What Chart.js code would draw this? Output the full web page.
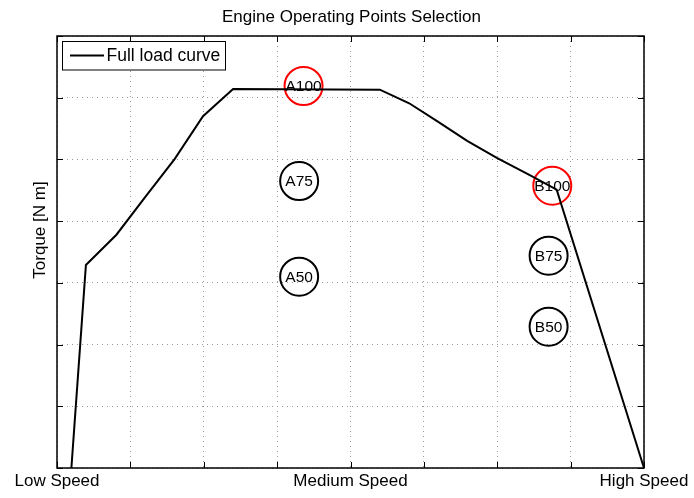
<!DOCTYPE html>
<html>
<head>
<meta charset="utf-8">
<script src="https://cdn.jsdelivr.net/npm/chart.js@4/dist/chart.umd.min.js"></script>
<style>
  html, body { margin: 0; padding: 0; background: #fff; }
  #wrap { width: 694px; height: 498px; }
</style>
</head>
<body>
<div id="wrap"><canvas id="c" width="694" height="498"></canvas></div>
<script>
// Full load torque curve (speed in grid units, torque in grid units)
const curveSpeed  = [0.196, 0.394, 0.81, 1.196, 1.605, 1.99, 2.40, 4.40, 4.80, 5.18, 5.59, 6.00, 6.45, 6.81, 8.0];
const curveTorque = [0,     3.29,  3.78, 4.38,  5.01,  5.70, 6.14, 6.13, 5.91, 5.62, 5.30, 5.02, 4.74, 4.51, 0];

// Selected operating points
const pointNames  = ['A100', 'A75', 'A50', 'B100', 'B75', 'B50'];
const pointSpeed  = [3.36, 3.30, 3.30, 6.75, 6.70, 6.70];
const pointTorque = [6.19, 4.65, 3.10, 4.575, 3.44, 2.29];
const pointColors = ['#ff0000', '#000000', '#000000', '#ff0000', '#000000', '#000000'];

// Speed axis labels (only three named ticks)
const speedTickLabels = { 0: 'Low Speed', 4: 'Medium Speed', 8: 'High Speed' };

const titleText = 'Engine Operating Points Selection';
const yAxisText = 'Torque [N m]';
const legendText = 'Full load curve';

const FONT = '"Liberation Sans", Arial, Helvetica, sans-serif';

const decorations = {
  id: 'decorations',
  afterDraw(chart) {
    const ctx = chart.ctx;
    const a = chart.chartArea;
    const xs = chart.scales.x, ys = chart.scales.y;
    ctx.save();

    // inward tick marks on all four sides
    ctx.strokeStyle = '#000';
    ctx.lineWidth = 1;
    const tl = 6;
    ctx.beginPath();
    for (let v = xs.min; v <= xs.max; v++) {
      const px = Math.round(xs.getPixelForValue(v)) + 0.5;
      ctx.moveTo(px, a.bottom); ctx.lineTo(px, a.bottom - tl);
      ctx.moveTo(px, a.top); ctx.lineTo(px, a.top + tl);
    }
    for (let v = ys.min; v <= ys.max; v++) {
      const py = Math.round(ys.getPixelForValue(v)) + 0.5;
      ctx.moveTo(a.left, py); ctx.lineTo(a.left + tl, py);
      ctx.moveTo(a.right, py); ctx.lineTo(a.right - tl, py);
    }
    ctx.stroke();

    // axes box
    ctx.lineWidth = 1.5;
    ctx.strokeRect(a.left, a.top, a.right - a.left, a.bottom - a.top);

    // labels inside the operating point circles
    ctx.fillStyle = '#000';
    ctx.font = '15.5px ' + FONT;
    ctx.textAlign = 'center';
    ctx.textBaseline = 'middle';
    pointNames.forEach((name, i) => {
      ctx.fillText(name, xs.getPixelForValue(pointSpeed[i]), ys.getPixelForValue(pointTorque[i]) + 1);
    });

    // legend
    const lx = 62.5, ly = 41.5, lw = 163, lh = 28.5;
    ctx.fillStyle = '#fff';
    ctx.fillRect(lx, ly, lw, lh);
    ctx.lineWidth = 1;
    ctx.strokeStyle = '#000';
    ctx.strokeRect(lx, ly, lw, lh);
    ctx.lineWidth = 2;
    ctx.beginPath();
    ctx.moveTo(70, 55.5); ctx.lineTo(104, 55.5);
    ctx.stroke();
    ctx.fillStyle = '#000';
    ctx.font = '17.5px ' + FONT;
    ctx.textAlign = 'left';
    ctx.textBaseline = 'middle';
    ctx.fillText(legendText, 106.5, 56);

    // title
    ctx.font = '17px ' + FONT;
    ctx.textAlign = 'center';
    ctx.textBaseline = 'alphabetic';
    ctx.fillText(titleText, 351.5, 22);

    // y axis label
    ctx.translate(45, 230);
    ctx.rotate(-Math.PI / 2);
    ctx.textAlign = 'center';
    ctx.textBaseline = 'alphabetic';
    ctx.fillText(yAxisText, 0, 0);

    ctx.restore();
  }
};

new Chart(document.getElementById('c'), {
  type: 'scatter',
  data: {
    datasets: [
      {
        label: legendText,
        data: curveSpeed.map((x, i) => ({ x, y: curveTorque[i] })),
        showLine: true,
        borderColor: '#000',
        borderWidth: 2,
        pointRadius: 0,
        tension: 0,
        fill: false
      },
      {
        label: 'Operating points',
        data: pointSpeed.map((x, i) => ({ x, y: pointTorque[i] })),
        showLine: false,
        pointRadius: 19,
        pointHoverRadius: 19,
        pointBorderWidth: 2,
        pointBorderColor: pointColors,
        pointBackgroundColor: 'rgba(0,0,0,0)',
        borderColor: pointColors,
        backgroundColor: 'rgba(0,0,0,0)'
      }
    ]
  },
  options: {
    responsive: false,
    animation: false,
    events: [],
    layout: { padding: { top: 36, right: 50, left: 0, bottom: 0 } },
    plugins: {
      legend: { display: false },
      title: { display: false },
      tooltip: { enabled: false }
    },
    scales: {
      x: {
        type: 'linear',
        min: 0, max: 8,
        afterFit(scale) { scale.height = 30; },
        ticks: {
          stepSize: 1,
          autoSkip: false,
          maxRotation: 0,
          minRotation: 0,
          padding: 3,
          color: '#000',
          font: { family: FONT, size: 17 },
          callback: (v) => speedTickLabels[v] || ''
        },
        grid: { color: '#999999', lineWidth: 1, drawTicks: false },
        border: { display: false, dash: [1, 4] }
      },
      y: {
        type: 'linear',
        min: 0, max: 7,
        afterFit(scale) { scale.width = 57; },
        ticks: { stepSize: 1, display: false },
        grid: { color: '#999999', lineWidth: 1, drawTicks: false },
        border: { display: false, dash: [1, 4] }
      }
    }
  },
  plugins: [decorations]
});
</script>
</body>
</html>
